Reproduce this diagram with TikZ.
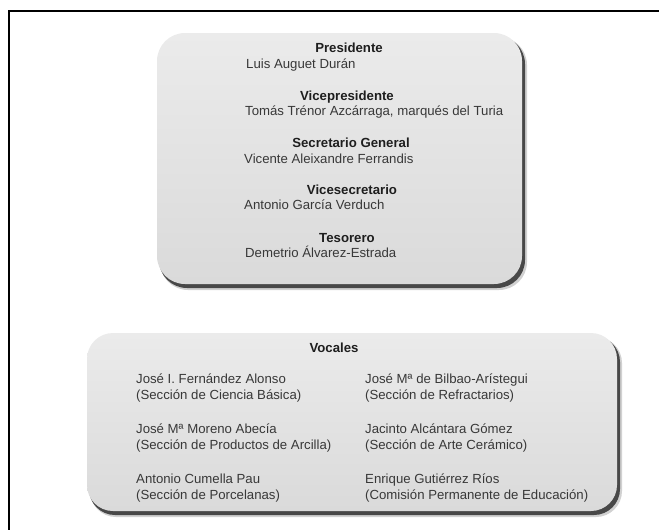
\documentclass[tikz,border=0pt]{standalone}
\usepackage{fontspec}
\setmainfont{Liberation Sans}
\definecolor{titlecol}{HTML}{1E1E1E}
\definecolor{namecol}{HTML}{383838}
\definecolor{boxtop}{HTML}{EBEBEB}
\definecolor{boxbot}{HTML}{DADADA}
\definecolor{shadowcol}{HTML}{484848}
\begin{document}
\begin{tikzpicture}[x=1pt,y=-1pt,
  ttl/.style={font=\fontsize{13.2}{15}\selectfont\bfseries, text=titlecol, anchor=base, inner sep=0pt},
  nm/.style={font=\fontsize{13.2}{15}\selectfont, text=namecol, anchor=base west, inner sep=0pt},
  boxshade/.style={top color=boxtop, bottom color=boxbot},
  shadowsoft/.style={fill=black, opacity=0.18},
  shadowhard/.style={fill=shadowcol},
  frameline/.style={line width=1.4pt, draw=black}
]
\useasboundingbox (0,0) rectangle (659,530);
% outer frame
\draw[frameline] (9,540) -- (9,11) -- (670,11);

% top box
\fill[shadowsoft, rounded corners=28] (160,37) rectangle (527,290);
\fill[shadowhard, rounded corners=28] (159,36) rectangle (525,288);
\shade[boxshade, rounded corners=28] (157,33) rectangle (522,284);

\node[ttl] (t1) at (349,52) {Presidente};
\node[nm]  (n1) at (246,68) {Luis Auguet Durán};
\node[ttl] (t2) at (347,100) {Vicepresidente};
\node[nm]  (n2) at (245,115) {Tomás Trénor Azcárraga, marqués del Turia};
\node[ttl] (t3) at (351,147) {Secretario General};
\node[nm]  (n3) at (244,163) {Vicente Aleixandre Ferrandis};
\node[ttl] (t4) at (352,194) {Vicesecretario};
\node[nm]  (n4) at (244,209) {Antonio García Verduch};
\node[ttl] (t5) at (347,242) {Tesorero};
\node[nm]  (n5) at (245,257) {Demetrio Álvarez-Estrada};

% bottom box
\fill[shadowsoft, rounded corners=26] (90,337) rectangle (622,517);
\fill[shadowhard, rounded corners=26] (89,336) rectangle (620,515);
\shade[boxshade, rounded corners=26] (87,333) rectangle (617,511);

\node[ttl] (voc) at (334,352) {Vocales};
\node[nm] (v1a) at (136,383) {José I. Fernández Alonso};
\node[nm] (v1b) at (136,399) {(Sección de Ciencia Básica)};
\node[nm] (v2a) at (136,433) {José Mª Moreno Abecía};
\node[nm] (v2b) at (136,449) {(Sección de Productos de Arcilla)};
\node[nm] (v3a) at (136,483) {Antonio Cumella Pau};
\node[nm] (v3b) at (136,499) {(Sección de Porcelanas)};
\node[nm] (v4a) at (365,383) {José Mª de Bilbao-Arístegui};
\node[nm] (v4b) at (365,399) {(Sección de Refractarios)};
\node[nm] (v5a) at (365,433) {Jacinto Alcántara Gómez};
\node[nm] (v5b) at (365,449) {(Sección de Arte Cerámico)};
\node[nm] (v6a) at (365,483) {Enrique Gutiérrez Ríos};
\node[nm] (v6b) at (365,499) {(Comisión Permanente de Educación)};
\end{tikzpicture}
\end{document}
